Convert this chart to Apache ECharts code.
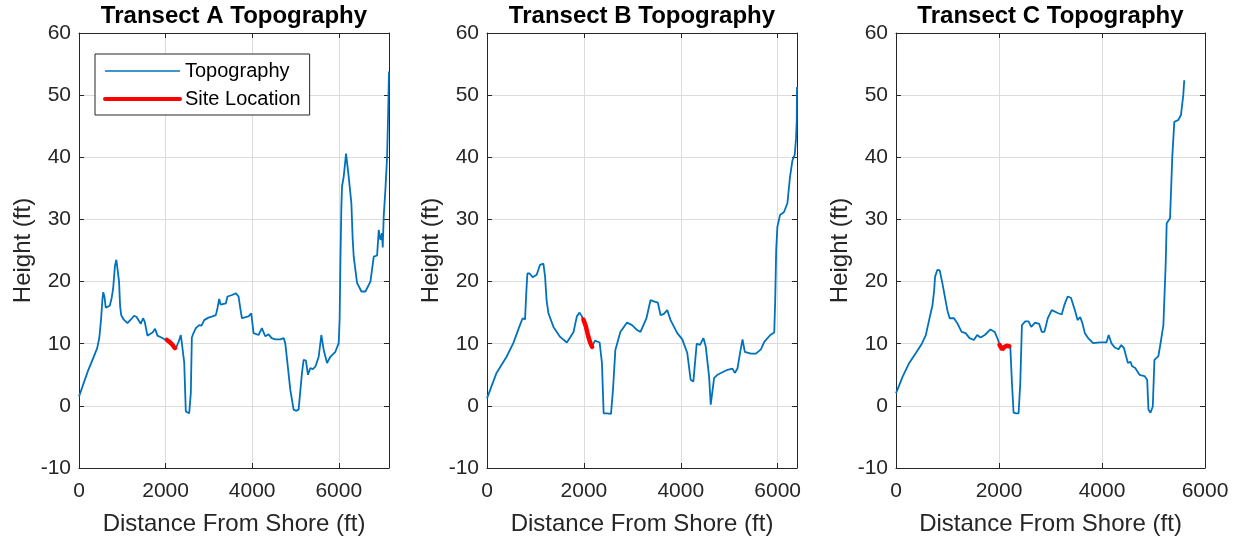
<!DOCTYPE html>
<html>
<head>
<meta charset="utf-8">
<script src="https://cdn.jsdelivr.net/npm/echarts@6/dist/echarts.min.js"></script>
<style>
  html, body { margin: 0; padding: 0; background: #ffffff; }
  #chart { width: 1244px; height: 544px; }
</style>
</head>
<body>
<div id="chart"></div>
<script>
// Ground profile along each transect: distance from shore (ft) and height (ft)
const distanceA = [0, 100, 200, 300, 420, 470, 510, 540, 560, 590, 617, 660, 710, 756, 790, 830, 863, 900, 925, 950, 975, 1030, 1118, 1200, 1272, 1330, 1372, 1426, 1480, 1520, 1580, 1650, 1700, 1758, 1812, 1900, 2005, 2100, 2200, 2250, 2300, 2352, 2390, 2430, 2467, 2500, 2545, 2583, 2606, 2650, 2698, 2776, 2830, 2891, 2990, 3083, 3160, 3200, 3238, 3270, 3300, 3392, 3430, 3520, 3624, 3685, 3730, 3763, 3916, 3978, 4032, 4147, 4224, 4301, 4378, 4450, 4533, 4650, 4726, 4764, 4820, 4880, 4957, 5010, 5072, 5150, 5188, 5240, 5289, 5343, 5400, 5459, 5536, 5597, 5652, 5729, 5806, 5921, 5998, 6020, 6037, 6060, 6075, 6114, 6168, 6229, 6291, 6320, 6345, 6422, 6523, 6615, 6731, 6770, 6808, 6885, 6923, 6962, 7000, 7015, 7038, 7077, 7116, 7140, 7154, 7160];
const heightA = [1.5, 3.5, 5.5, 7.2, 9.3, 11, 14, 17, 18.3, 17.5, 15.8, 15.9, 16.1, 17.4, 19, 22.5, 23.5, 23.3, 20, 16, 14.6, 13.9, 13.3, 13.9, 14.5, 14.3, 14.0, 13.2, 14.1, 13.5, 11.3, 11.6, 11.8, 12.4, 11.3, 11.0, 10.6, 10.2, 9.5, 9.5, 10.3, 11.4, 11.6, 7, -0.9, -1.2, -1.2, 2.1, 11, 11.8, 12.5, 13, 12.9, 13.8, 14.2, 14.4, 14.6, 15.8, 17.2, 16.3, 16.1, 16.5, 17.6, 17.8, 18.1, 17.6, 15.5, 14.1, 14.4, 14.9, 11.7, 11.4, 12.5, 11.2, 11.5, 10.9, 10.7, 10.7, 10.9, 10.1, 6.5, 2.6, -0.6, -0.8, -0.6, 5.3, 7.4, 7.3, 5.0, 6.1, 5.9, 6.3, 7.9, 11.4, 9.0, 6.9, 7.9, 8.7, 10.1, 14, 23, 32, 35.3, 36.9, 40.6, 36.9, 32.6, 27, 24, 19.8, 18.4, 18.4, 20, 20.1, 24, 24.2, 28.3, 26.7, 27.8, 25.5, 30.5, 34.8, 40.1, 47, 52, 53.8];

const distanceB = [0, 197, 404, 543, 680, 736, 785, 810, 833, 880, 943, 1026, 1095, 1164, 1199, 1230, 1268, 1372, 1510, 1648, 1683, 1787, 1855, 1911, 1959, 1990, 2060, 2110, 2170, 2230, 2270, 2325, 2373, 2408, 2480, 2560, 2601, 2650, 2753, 2891, 2995, 3099, 3168, 3230, 3292, 3375, 3444, 3528, 3583, 3652, 3721, 3790, 3928, 4032, 4135, 4204, 4260, 4329, 4398, 4467, 4515, 4585, 4619, 4689, 4758, 4965, 5068, 5116, 5171, 5228, 5275, 5323, 5448, 5551, 5655, 5724, 5849, 5930, 5950, 5970, 5995, 6049, 6132, 6202, 6256, 6306, 6353, 6380, 6395, 6400];
const heightB = [1.2, 5.3, 7.9, 10.1, 13.0, 14.1, 13.9, 18, 21.3, 21.3, 20.7, 21.1, 22.7, 22.9, 20.8, 17, 14.9, 12.7, 11.1, 10.2, 10.6, 11.9, 14.4, 15.0, 14.4, 13.9, 12.2, 10.6, 9.6, 10.5, 10.7, 10.2, 6.9, -1.2, -1.2, -1.3, 2.6, 9.0, 11.9, 13.4, 13.0, 12.2, 11.9, 13, 14.1, 17.0, 16.8, 16.6, 14.6, 14.8, 15.4, 13.8, 11.7, 10.7, 8.5, 4.2, 3.9, 10.0, 9.8, 10.9, 9.6, 4.7, 0.2, 4.5, 5.0, 5.8, 6.0, 5.3, 6.0, 8.7, 10.7, 8.7, 8.4, 8.4, 9.1, 10.3, 11.4, 11.8, 17, 25, 28.8, 30.7, 31.2, 32.6, 36.9, 39.5, 40.4, 43, 46, 51.3];

const distanceC = [0, 129, 257, 386, 502, 579, 643, 708, 740, 759, 804, 849, 901, 997, 1042, 1126, 1190, 1274, 1351, 1428, 1512, 1576, 1641, 1724, 1834, 1917, 1982, 2010, 2060, 2110, 2160, 2220, 2252, 2283, 2330, 2380, 2413, 2445, 2509, 2574, 2625, 2702, 2779, 2831, 2882, 2947, 3024, 3056, 3152, 3217, 3268, 3333, 3397, 3474, 3526, 3577, 3616, 3667, 3731, 3828, 3957, 4086, 4130, 4181, 4246, 4323, 4375, 4426, 4503, 4555, 4581, 4645, 4729, 4825, 4877, 4902, 4941, 4986, 5018, 5095, 5147, 5192, 5237, 5256, 5321, 5365, 5404, 5481, 5533, 5578, 5597];
const heightC = [2.0, 4.7, 6.9, 8.5, 10.0, 11.4, 13.8, 16.2, 18.5, 20.8, 21.9, 21.8, 19.7, 15.4, 14.1, 14.1, 13.3, 11.9, 11.7, 10.9, 10.6, 11.4, 11.0, 11.4, 12.3, 11.9, 10.6, 9.8, 9.1, 9.4, 9.7, 9.4, 3.6, -1.1, -1.2, -1.2, 3.6, 13.0, 13.6, 13.6, 12.7, 13.4, 13.2, 11.9, 11.9, 14.1, 15.4, 15.7, 14.9, 14.7, 16.2, 17.6, 17.4, 15.4, 13.8, 14.3, 13.4, 11.7, 10.9, 10.1, 10.2, 10.2, 11.4, 10.1, 9.4, 9.1, 9.8, 9.3, 6.9, 7.1, 6.4, 6.1, 5.0, 4.8, 4.2, -0.6, -1.1, -0.1, 7.4, 8.0, 10.6, 13.0, 22.9, 29.4, 30.2, 40.1, 45.7, 46.0, 46.8, 50.0, 52.4];

// Site location stretch on each transect
const siteDistanceA = [2030, 2090, 2150, 2190, 2220];
const siteHeightA = [10.6, 10.3, 9.9, 9.5, 9.3];
const siteDistanceB = [1990, 2040, 2090, 2130, 2170];
const siteHeightB = [13.9, 12.8, 11.2, 10.2, 9.5];
const siteDistanceC = [2010, 2060, 2110, 2150, 2200];
const siteHeightC = [9.8, 9.1, 9.5, 9.7, 9.6];

const panelTitles = ['Transect A Topography', 'Transect B Topography', 'Transect C Topography'];
const distanceLimits = [7160, 6400, 6000];
const distanceStep = 2000;
const heightLimits = [-10, 60];
const heightStep = 10;
const seriesNames = ['Topography', 'Site Location'];
const xAxisTitle = 'Distance From Shore (ft)';
const yAxisTitle = 'Height (ft)';

const zip = (xs, ys) => xs.map((x, i) => [x, ys[i]]);
const profiles = [zip(distanceA, heightA), zip(distanceB, heightB), zip(distanceC, heightC)];
const sites = [zip(siteDistanceA, siteHeightA), zip(siteDistanceB, siteHeightB), zip(siteDistanceC, siteHeightC)];

const FONT = '"Liberation Sans", Arial, Helvetica, sans-serif';
const INK = '#262626';
const GRID_INK = '#dcdcdc';
const BLUE = '#0072BD';
const RED = '#FF0000';
const BLUE_WIDTH = 1.8;
const RED_WIDTH = 4.5;
const panels = [
  { left: 79, top: 33, width: 310, height: 435 },
  { left: 487, top: 33, width: 310, height: 435 },
  { left: 896, top: 33, width: 309, height: 435 }
];

const grid = [], xAxis = [], yAxis = [], series = [], title = [];

panels.forEach((p, i) => {
  grid.push({ left: p.left, top: p.top, width: p.width, height: p.height, containLabel: false });
  title.push({
    text: panelTitles[i],
    left: p.left + p.width / 2,
    textAlign: 'center',
    top: 0,
    padding: [4, 0, 0, 0],
    textStyle: { fontFamily: FONT, fontSize: 24, fontWeight: 'bold', color: '#000000' }
  });
  const edge = { show: true, onZero: false, lineStyle: { color: INK, width: 1 } };
  const tick = { show: true, inside: true, length: 5, lineStyle: { color: INK, width: 1 } };
  // bottom distance axis
  xAxis.push({
    type: 'value', gridIndex: i, position: 'bottom',
    min: 0, max: distanceLimits[i], interval: distanceStep,
    name: xAxisTitle, nameLocation: 'middle', nameGap: 44,
    nameTextStyle: { fontFamily: FONT, fontSize: 24, color: INK },
    axisLine: edge, axisTick: tick,
    axisLabel: {
      fontFamily: FONT, fontSize: 21, color: INK, margin: 13,
      formatter: v => (v % distanceStep === 0 ? String(v) : '')
    },
    splitLine: { show: true, lineStyle: { color: GRID_INK, width: 1 } }
  });
  // top edge of the box
  xAxis.push({
    type: 'value', gridIndex: i, position: 'top',
    min: 0, max: distanceLimits[i], interval: distanceStep,
    axisLine: edge, axisTick: tick, axisLabel: { show: false }, splitLine: { show: false }
  });
  // left height axis
  yAxis.push({
    type: 'value', gridIndex: i, position: 'left',
    min: heightLimits[0], max: heightLimits[1], interval: heightStep,
    name: yAxisTitle, nameLocation: 'middle', nameGap: 44,
    nameTextStyle: { fontFamily: FONT, fontSize: 24, color: INK },
    axisLine: edge, axisTick: tick,
    axisLabel: { fontFamily: FONT, fontSize: 21, color: INK, margin: 8 },
    splitLine: { show: true, lineStyle: { color: GRID_INK, width: 1 } }
  });
  // right edge of the box
  yAxis.push({
    type: 'value', gridIndex: i, position: 'right',
    min: heightLimits[0], max: heightLimits[1], interval: heightStep,
    axisLine: edge, axisTick: tick, axisLabel: { show: false }, splitLine: { show: false }
  });

  series.push({
    name: seriesNames[0], type: 'line', xAxisIndex: 2 * i, yAxisIndex: 2 * i,
    data: profiles[i], symbol: 'none', smooth: false, z: 3,
    lineStyle: { color: BLUE, width: BLUE_WIDTH }, itemStyle: { color: BLUE }
  });
  series.push({
    name: seriesNames[1], type: 'line', xAxisIndex: 2 * i, yAxisIndex: 2 * i,
    data: sites[i], symbol: 'none', smooth: false, z: 4,
    lineStyle: { color: RED, width: RED_WIDTH, cap: 'round' }, itemStyle: { color: RED }
  });
});

const chart = echarts.init(document.getElementById('chart'), null, { renderer: 'canvas' });
chart.setOption({
  animation: false,
  backgroundColor: '#ffffff',
  title,
  grid,
  xAxis,
  yAxis,
  series,
  legend: {
    data: [
      { name: seriesNames[0], itemStyle: { opacity: 0 }, lineStyle: { color: BLUE, width: 1.6 } },
      { name: seriesNames[1], itemStyle: { opacity: 0 }, lineStyle: { color: RED, width: 4 } }
    ],
    orient: 'vertical',
    left: 95,
    top: 54,
    itemWidth: 75,
    itemHeight: 14,
    itemGap: 8,
    padding: [7, 9, 6, 8],
    backgroundColor: '#ffffff',
    borderColor: INK,
    borderWidth: 1,
    borderRadius: 0,
    textStyle: { fontFamily: FONT, fontSize: 20, color: '#000000' },
    selectedMode: false
  }
});
</script>
</body>
</html>
